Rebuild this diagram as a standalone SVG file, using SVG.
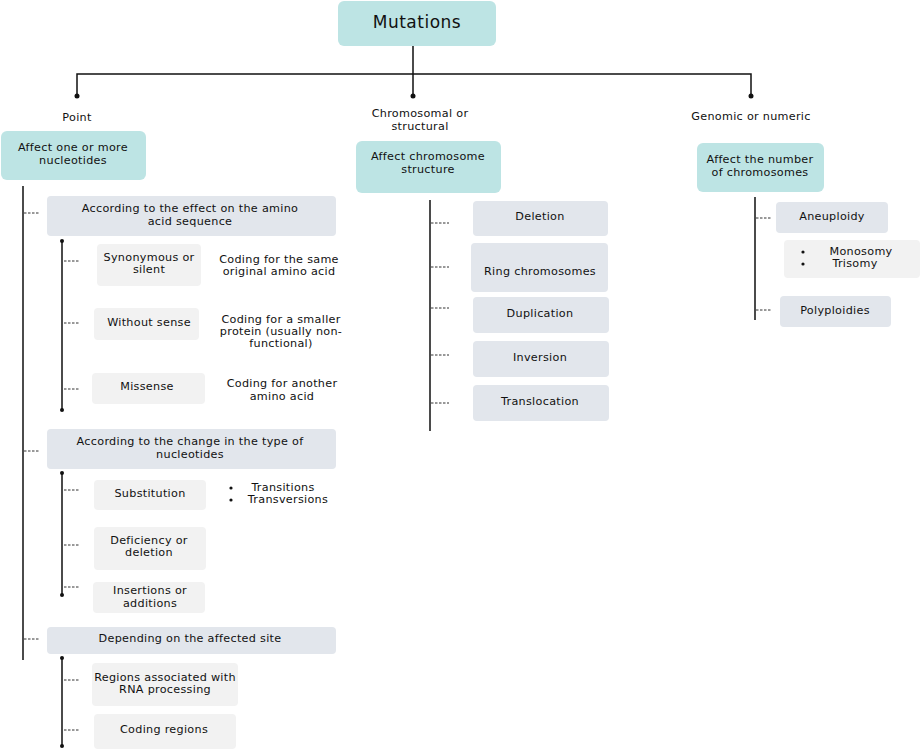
<svg xmlns="http://www.w3.org/2000/svg" width="921" height="751" viewBox="0 0 921 751">
<style>
text{font-family:"DejaVu Sans","Open Sans",sans-serif;font-size:11.2px;letter-spacing:0.3px;fill:#111;text-anchor:middle;dominant-baseline:central}
.t{font-size:17px;letter-spacing:0.5px}
.teal{fill:#bde4e4}
.gray{fill:#e2e6ec}
.light{fill:#f2f2f2}
.ln{stroke:#111;stroke-width:1.5;fill:none}
.ds{stroke:#333;stroke-width:1;stroke-dasharray:2.5 1.5;fill:none}
.dot{fill:#111}
</style>
<rect width="921" height="751" fill="#fff"/>
<g id="connectors">
<path class="ln" d="M413 46V74M77 96V74H751V96M413 74V96"/>
<circle class="dot" cx="77" cy="96" r="2.5"/><circle class="dot" cx="413" cy="96" r="2.5"/><circle class="dot" cx="751" cy="96" r="2.5"/>
<path class="ln" d="M23 186V660M62 241V410M62 473V595M62 658V746M430 200V431M755 197V320"/>
<circle class="dot" cx="62" cy="241" r="2"/><circle class="dot" cx="62" cy="410" r="2"/>
<circle class="dot" cx="62" cy="473" r="2"/><circle class="dot" cx="62" cy="595" r="2"/>
<circle class="dot" cx="62" cy="658" r="2"/><circle class="dot" cx="62" cy="746" r="2"/>
<path class="ds" d="M24 213H39M24 451H39M24 639H39M64 261H80M64 323H80M64 389H80M64 490H80M64 545H80M64 587H80M64 680H80M64 730H80M431 223H449M431 267H449M431 308H449M431 355H449M431 403H449M756 218H771M756 310H771"/>
</g>
<g id="mutations"><rect class="teal" x="338" y="1" width="158" height="45" rx="6"/><text class="t" x="417" y="22">Mutations</text></g>
<g id="label-point"><text x="77" y="117">Point</text></g>
<g id="label-chrom"><text x="420" y="113">Chromosomal or</text><text x="420" y="126">structural</text></g>
<g id="label-genomic"><text x="751" y="116">Genomic or numeric</text></g>
<g id="point"><rect class="teal" x="1" y="131" width="145" height="49" rx="6"/><text x="73" y="147">Affect one or more</text><text x="73" y="160">nucleotides</text></g>
<g id="chrom"><rect class="teal" x="356" y="141" width="145" height="52" rx="6"/><text x="428" y="156">Affect chromosome</text><text x="428" y="169">structure</text></g>
<g id="genomic"><rect class="teal" x="697" y="143" width="127" height="49" rx="6"/><text x="760" y="159">Affect the number</text><text x="760" y="172">of chromosomes</text></g>
<g id="amino"><rect class="gray" x="47" y="196" width="289" height="40" rx="4"/><text x="190" y="208">According to the effect on the amino</text><text x="190" y="221">acid sequence</text></g>
<g id="syn"><rect class="light" x="97" y="244" width="104" height="42" rx="4"/><text x="149" y="257">Synonymous or</text><text x="149" y="269">silent</text></g>
<g id="syn-d"><text x="279" y="259">Coding for the same</text><text x="279" y="271">original amino acid</text></g>
<g id="wos"><rect class="light" x="94" y="308" width="105" height="32" rx="4"/><text x="149" y="322">Without sense</text></g>
<g id="wos-d"><text x="281" y="319">Coding for a smaller</text><text x="281" y="331">protein (usually non-</text><text x="281" y="343">functional)</text></g>
<g id="mis"><rect class="light" x="92" y="373" width="113" height="31" rx="4"/><text x="147" y="386">Missense</text></g>
<g id="mis-d"><text x="282" y="383">Coding for another</text><text x="282" y="396">amino acid</text></g>
<g id="change"><rect class="gray" x="47" y="429" width="289" height="40" rx="4"/><text x="190" y="441">According to the change in the type of</text><text x="190" y="454">nucleotides</text></g>
<g id="subs"><rect class="light" x="94" y="480" width="112" height="30" rx="4"/><text x="150" y="493">Substitution</text></g>
<g id="subs-d"><circle class="dot" cx="231" cy="488" r="1.6"/><circle class="dot" cx="231" cy="500" r="1.6"/><text x="283" y="487">Transitions</text><text x="288" y="499">Transversions</text></g>
<g id="defic"><rect class="light" x="94" y="527" width="112" height="43" rx="4"/><text x="149" y="540">Deficiency or</text><text x="149" y="552">deletion</text></g>
<g id="ins"><rect class="light" x="93" y="582" width="112" height="31" rx="4"/><text x="150" y="590">Insertions or</text><text x="150" y="603">additions</text></g>
<g id="site"><rect class="gray" x="47" y="627" width="289" height="27" rx="4"/><text x="190" y="638">Depending on the affected site</text></g>
<g id="rna"><rect class="light" x="92" y="663" width="146" height="43" rx="4"/><text x="165" y="677">Regions associated with</text><text x="165" y="689">RNA processing</text></g>
<g id="coding"><rect class="light" x="94" y="714" width="142" height="35" rx="4"/><text x="164" y="729">Coding regions</text></g>
<g id="deletion"><rect class="gray" x="473" y="201" width="135" height="35" rx="4"/><text x="540" y="216">Deletion</text></g>
<g id="ring"><rect class="gray" x="471" y="243" width="137" height="49" rx="4"/><text x="540" y="271">Ring chromosomes</text></g>
<g id="dup"><rect class="gray" x="473" y="297" width="136" height="36" rx="4"/><text x="540" y="313">Duplication</text></g>
<g id="inv"><rect class="gray" x="473" y="341" width="136" height="36" rx="4"/><text x="540" y="357">Inversion</text></g>
<g id="trans"><rect class="gray" x="473" y="385" width="136" height="36" rx="4"/><text x="540" y="401">Translocation</text></g>
<g id="aneu"><rect class="gray" x="776" y="202" width="112" height="31" rx="4"/><text x="832" y="216">Aneuploidy</text></g>
<g id="mono"><rect class="light" x="784" y="240" width="136" height="38" rx="4"/><circle class="dot" cx="803" cy="252" r="1.6"/><circle class="dot" cx="803" cy="264" r="1.6"/><text x="861" y="251">Monosomy</text><text x="855" y="263">Trisomy</text></g>
<g id="poly"><rect class="gray" x="780" y="296" width="111" height="31" rx="4"/><text x="835" y="310">Polyploidies</text></g>
</svg>
